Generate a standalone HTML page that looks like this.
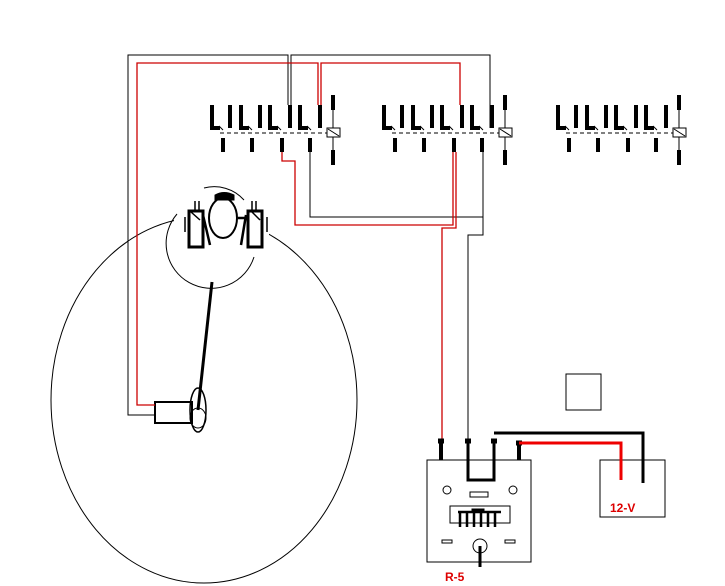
<!DOCTYPE html>
<html><head><meta charset="utf-8"><style>body{margin:0;background:#fff}svg{display:block}</style></head>
<body>
<svg width="725" height="586" viewBox="0 0 725 586" xmlns="http://www.w3.org/2000/svg">
<defs>
<g id="sw">
  <g stroke="#000" stroke-width="4" fill="none">
    <path d="M212,105 V128 H220"/><line x1="230" y1="105" x2="230" y2="128"/>
    <path d="M241,105 V128 H249"/><line x1="260" y1="105" x2="260" y2="128"/>
    <path d="M270,105 V128 H278"/><line x1="290" y1="105" x2="290" y2="128"/>
    <path d="M300,105 V128 H308"/><line x1="320" y1="105" x2="320" y2="128"/>
    <line x1="223" y1="138" x2="223" y2="152"/><line x1="252" y1="138" x2="252" y2="152"/>
    <line x1="282" y1="138" x2="282" y2="152"/><line x1="310" y1="138" x2="310" y2="152"/>
    <line x1="333" y1="95" x2="333" y2="110"/><line x1="333" y1="150" x2="333" y2="165"/>
  </g>
  <g stroke="#000" stroke-width="1" fill="none">
    <line x1="333" y1="110" x2="333" y2="150"/>
    <line x1="220" y1="133" x2="327" y2="133" stroke-dasharray="4,3"/>
    <path d="M219,126 l4,4 M248,126 l4,4 M277,126 l4,4 M307,126 l4,4"/>
    <rect x="327" y="128" width="13" height="9" fill="#fff"/>
    <line x1="328" y1="129" x2="339" y2="136"/>
  </g>
</g>
</defs>
<use href="#sw"/>
<use href="#sw" transform="translate(172,0)"/>
<use href="#sw" transform="translate(346,0)"/>

<ellipse cx="204" cy="400" rx="153" ry="183" fill="none" stroke="#000" stroke-width="1"/>
<rect x="174" y="212" width="95" height="30" fill="#fff"/>

<g fill="none" stroke="#000" stroke-width="1">
  <path d="M155,415 H128 V55 H288 V105"/>
  <path d="M291,105 V55 H490 V128"/>
  <path d="M310,152 V217 H483 V152"/>
  <path d="M483,165 V235 H468 V440"/>
  <path d="M177,214 A45,45 0 1 0 254,257"/>
  <path d="M204,188 A40,40 0 0 1 244,200"/>
  <ellipse cx="223" cy="218" rx="14" ry="20" stroke-width="2"/>
  <rect x="566" y="374" width="35" height="36"/>
  <rect x="427" y="460" width="104" height="102"/>
  <rect x="600" y="460" width="65" height="57"/>
  <circle cx="447" cy="490" r="4"/><circle cx="513" cy="490" r="4"/>
  <rect x="470" y="492" width="18" height="5"/>
  <rect x="450" y="506" width="60" height="17"/>
  <rect x="442" y="540" width="10" height="3"/><rect x="505" y="540" width="10" height="3"/>
  <circle cx="480" cy="546" r="7"/>
  <rect x="155" y="402" width="37" height="21" stroke-width="2"/>
  <ellipse cx="198" cy="410" rx="8" ry="22" stroke-width="1.5"/>
  <ellipse cx="198" cy="418" rx="8" ry="10" stroke-width="1"/>
</g>
<g fill="none" stroke="#c00" stroke-width="1.3">
  <path d="M155,405 H137 V63 H318 V105"/>
  <path d="M321,105 V63 H460 V105"/>
  <path d="M282,152 V161 H295 V225 H453 V152"/>
  <path d="M456,152 V228 H442 V440"/>
</g>
<g stroke="#000" fill="none">
  <path d="M215,200 V195 Q224,190 234,195 V200 Z" fill="#000" stroke-width="1"/>
  <rect x="189" y="211" width="14" height="36" stroke-width="3"/>
  <rect x="248" y="211" width="14" height="36" stroke-width="3"/>
  <path d="M185,217 V232 M195,201 V211 M199,201 V211 M191,212 L200,220" stroke-width="1.5"/>
  <path d="M267,217 V232 M252,201 V211 M256,201 V211 M252,212 L260,220" stroke-width="1.5"/>
  <path d="M203,215 L210,245 M246,215 L241,245 M238,218 H246" stroke-width="2.5"/>
  <line x1="212" y1="282" x2="198" y2="410" stroke-width="3"/>
  <line x1="480" y1="546" x2="480" y2="567" stroke-width="3"/>
</g>
<g stroke="#000" fill="none">
  <path d="M441,440 V460 M519,443 V460" stroke-width="4"/>
  <path d="M468,440 V480 H494 V440" stroke-width="3"/>
  <path d="M494,433 H643 V483" stroke-width="3"/>
  <path d="M458,512 H501 M460,512 V527 M467,512 V527 M474,512 V527 M481,512 V527 M488,512 V527 M495,512 V527" stroke-width="2.5"/>
  <rect x="472" y="509" width="12" height="3" fill="#000" stroke-width="1"/>
</g>
<g stroke="#000" stroke-width="5"><path d="M438,441h6M465,441h6M491,441h6M516,443h6"/></g>
<path d="M519,443 H621 V480" stroke="#e00" stroke-width="3" fill="none"/>
<text x="610" y="512" font-family="Liberation Sans, sans-serif" font-weight="bold" font-size="12" fill="#d00">12-V</text>
<text x="445" y="581" font-family="Liberation Sans, sans-serif" font-weight="bold" font-size="12" fill="#d00">R-5</text>
</svg>
</body></html>
